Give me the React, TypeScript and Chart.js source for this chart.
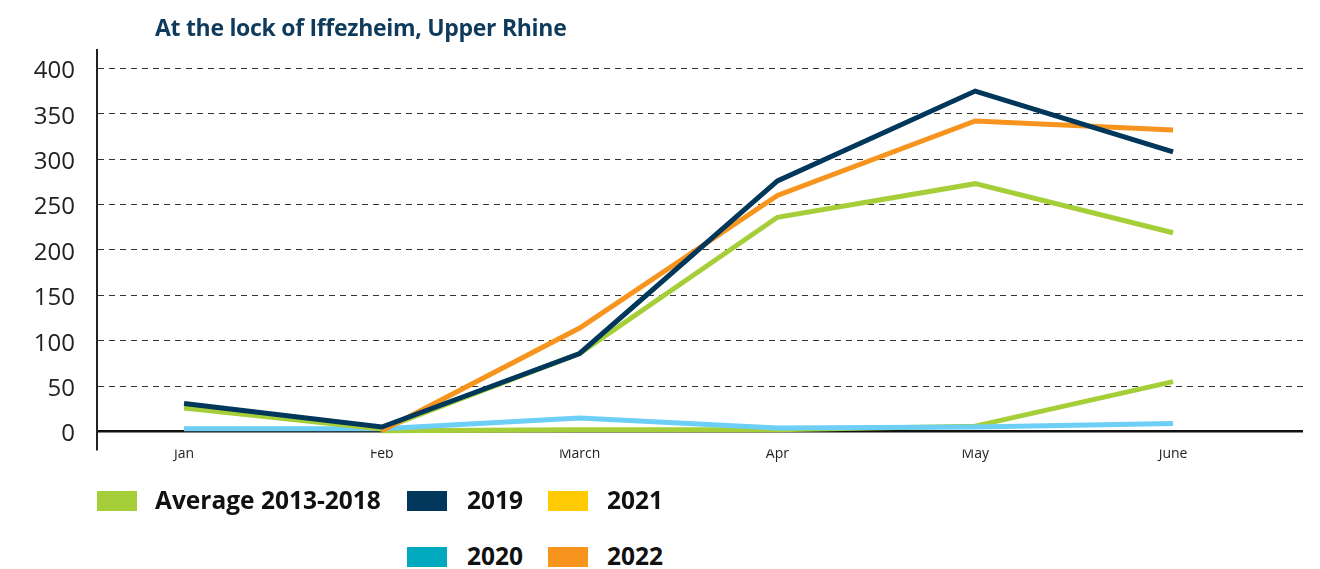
import React, { useEffect, useRef } from "react";
import { Chart, registerables } from "chart.js";

Chart.register(...registerables);

const months = ["Jan", "Feb", "March", "Apr", "May", "June"];
const yTicks = [0, 50, 100, 150, 200, 250, 300, 350, 400];

const average2013to2018 = [26, 3, 86, 236, 273, 219];
const values2019 = [31, 5, 86, 276, 375, 308];
const values2020 = [3, 3, 15, 4, 5, 9];
const values2021 = [null, 1, 2, 2, 6, 55];
const values2022 = [null, 1, 114, 260, 342, 332];

const seriesNames = ["Average 2013-2018", "2019", "2020", "2021", "2022"];
const lineColors = ["#a6ce39", "#00375b", "#6dcff6", "#a6ce39", "#f7941d"];
const legendColors = ["#a6ce39", "#00375b", "#00a9bd", "#ffcb05", "#f7941d"];

const FONT = "'Open Sans', 'DejaVu Sans', sans-serif";

export default function App() {
  const ref = useRef<HTMLCanvasElement | null>(null);

  useEffect(() => {
    if (!ref.current) return;
    const all = [average2013to2018, values2019, values2020, values2021, values2022];
    const orders = [4, 1, 5, 6, 3];
    const chart = new Chart(ref.current, {
      type: "line",
      data: {
        datasets: all.map((vals, k) => ({
          label: seriesNames[k],
          data: vals.map((v, i) => ({ x: i, y: v })),
          borderColor: lineColors[k],
          backgroundColor: lineColors[k],
          borderWidth: 5,
          pointRadius: 0,
          pointHoverRadius: 0,
          tension: 0,
          order: orders[k],
          borderCapStyle: "butt",
          borderJoinStyle: "miter",
          spanGaps: false,
        })),
      },
      options: {
        animation: false,
        responsive: false,
        devicePixelRatio: 1,
        layout: { padding: { left: 0, right: 17, top: 50, bottom: 0 } },
        plugins: {
          legend: { display: false },
          tooltip: { enabled: false },
          title: { display: false },
        },
        scales: {
          x: {
            type: "linear",
            min: -0.44,
            max: 5.657,
            afterFit: (s: any) => {
              s.height = 31;
            },
            grid: { display: false, drawTicks: false },
            border: { display: false },
            ticks: {
              stepSize: 1,
              includeBounds: false,
              autoSkip: false,
              maxRotation: 0,
              padding: -4,
              color: "#222",
              font: { family: FONT, size: 14 },
              callback: (v: any) => (Number.isInteger(v) && months[v] !== undefined ? months[v] : ""),
            },
          },
          y: {
            type: "linear",
            min: -19.85,
            max: 420.2,
            afterFit: (s: any) => {
              s.width = 97;
            },
            afterBuildTicks: (s: any) => {
              s.ticks = yTicks.map((v) => ({ value: v }));
            },
            grid: {
              drawTicks: false,
              color: (c: any) => (c.tick && c.tick.value === 0 ? "#111" : "#333"),
              lineWidth: (c: any) => (c.tick && c.tick.value === 0 ? 2.5 : 1),
            },
            border: {
              display: true,
              color: "#222",
              width: 2,
              dash: (c: any) => (c.tick && c.tick.value !== 0 ? [6, 5] : []),
            },
            ticks: {
              padding: 22,
              labelOffset: 3,
              color: "#222",
              font: { family: FONT, size: 24 },
            },
          },
        },
      },
    });
    return () => chart.destroy();
  }, []);

  const legendRows = [
    [0, 1, 3],
    [null, 2, 4],
  ];
  const colLeft = [97, 407, 548];
  const textLeft = [155, 467, 607];
  const rowTop = [491, 547];

  return (
    <div style={{ position: "absolute", left: 0, top: 0, width: 1320, height: 569, background: "#fff", overflow: "hidden" }}>
      <canvas ref={ref} width={1320} height={486} style={{ position: "absolute", left: 0, top: 0 }} />
      <div
        style={{
          position: "absolute",
          left: 155,
          top: 16,
          fontFamily: FONT,
          fontWeight: 700,
          fontSize: 23,
          lineHeight: "23px",
          letterSpacing: "-0.3px",
          color: "#0e3a5b",
          whiteSpace: "nowrap",
        }}
      >
        At the lock of Iffezheim, Upper Rhine
      </div>
      {legendRows.map((row, r) =>
        row.map((k, c) =>
          k === null ? null : (
            <React.Fragment key={`${r}-${c}`}>
              <div
                style={{
                  position: "absolute",
                  left: colLeft[c],
                  top: rowTop[r],
                  width: 40,
                  height: 20,
                  background: legendColors[k],
                }}
              />
              <div
                style={{
                  position: "absolute",
                  left: textLeft[c],
                  top: rowTop[r] - 3,
                  fontFamily: FONT,
                  fontWeight: 700,
                  fontSize: 24.5,
                  lineHeight: "24.5px",
                  color: "#111",
                  whiteSpace: "nowrap",
                }}
              >
                {seriesNames[k]}
              </div>
            </React.Fragment>
          )
        )
      )}
    </div>
  );
}
